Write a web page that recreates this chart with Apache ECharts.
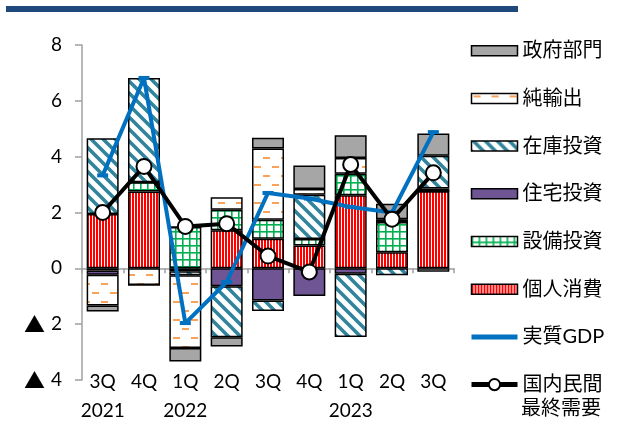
<!DOCTYPE html>
<html><head><meta charset="utf-8">
<script src="https://cdn.jsdelivr.net/npm/echarts@6/dist/echarts.min.js"></script>
<style>html,body{margin:0;padding:0;background:#fff}#c{width:630px;height:437px}</style>
</head><body><div id="c"></div>
<script>
const categories = ['3Q','4Q','1Q','2Q','3Q','4Q','1Q','2Q','3Q'];
const years = ['2021','','2022','','','','2023','',''];
const consumption = [1.95, 2.75, -0.1, 1.36, 1.06, 0.82, 2.62, 0.58, 2.76];
const capex       = [-0.08, 0.33, 1.48, 0.74, 0.68, 0.23, 0.77, 1.08, 0];
const housing     = [-0.15, 0, 0, -0.64, -1.15, -0.99, -0.19, 0, 0.1];
const inventory   = [2.71, 3.74, -0.15, -1.83, -0.38, 1.59, -2.27, -0.25, 1.17];
const netExports  = [-1.1, -0.6, -2.6, 0.45, 2.55, 0.2, 0.56, 0.1, -0.12];
const government  = [-0.22, 0, -0.49, -0.33, 0.39, 0.84, 0.82, 0.55, 0.8];
const realGDP     = [3.33, 6.82, -1.96, -0.49, 2.7, 2.5, 2.2, 2.0, 4.88];
const domestic    = [2.0, 3.65, 1.5, 1.6, 0.44, -0.13, 3.72, 1.76, 3.42];
const yTicks = {min: -4, max: 8, interval: 2};

const FONT = "Lato, 'Noto Sans CJK JP', sans-serif";
function pattern(w, h, draw) {
  const c = document.createElement('canvas');
  c.width = w; c.height = h;
  const g = c.getContext('2d');
  g.fillStyle = '#fff'; g.fillRect(0, 0, w, h);
  draw(g, w, h);
  return {image: c, repeat: 'repeat'};
}
const redP = pattern(3, 3, g => { g.fillStyle = '#FF0000'; g.fillRect(0, 0, 2, 3); });
const greenP = pattern(7, 7, g => { g.fillStyle = '#00B050'; g.fillRect(0, 0, 1.6, 7); g.fillRect(0, 0, 7, 1.6); });
const tealP = pattern(12, 12, g => {
  g.strokeStyle = '#31849B'; g.lineWidth = 3.6; g.beginPath();
  for (let k = -1; k <= 1; k++) { g.moveTo(k * 12 - 2, -2); g.lineTo(k * 12 + 14, 14); }
  g.stroke();
});
const orangeP = pattern(18, 18, g => { g.fillStyle = '#F9A25A'; g.fillRect(2, 4, 7, 2); g.fillRect(11, 13, 7, 2); });
const purple = '#6F5594';
const gray = '#A6A6A6';

function barSeries(name, data, color) {
  return {name, type: 'bar', stack: 'total', data, barWidth: 32, xAxisIndex: 0,
    itemStyle: {color, borderColor: '#000', borderWidth: 1.5}, emphasis: {disabled: true}};
}
const chart = echarts.init(document.getElementById('c'), null, {renderer: 'canvas'});
const legendBar = n => ({name: n, icon: 'path://M0,0h46v10h-46z', itemStyle: {borderColor: '#000', borderWidth: 1.5}});
chart.setOption({
  animation: false,
  textStyle: {fontFamily: FONT},
  grid: {left: 82, right: 176, top: 45, bottom: 57, containLabel: false},
  legend: {
    orient: 'vertical', left: 464, top: 33.7, itemWidth: 46, itemHeight: 14, itemGap: 23.7,
    symbolKeepAspect: true,
    textStyle: {fontSize: 20, lineHeight: 24, color: '#000', fontFamily: FONT},
    formatter: n => n === '国内民間最終需要' ? '国内民間' : n,
    selectedMode: false,
    data: [legendBar('政府部門'), legendBar('純輸出'), legendBar('在庫投資'), legendBar('住宅投資'),
      legendBar('設備投資'), legendBar('個人消費'),
      {name: '実質GDP', icon: 'path://M0,0h46v5h-46z', itemStyle: {color: '#0070C0', borderWidth: 0}},
      {name: '国内民間最終需要', lineStyle: {width: 5, color: '#000'}, itemStyle: {color: '#fff', borderColor: '#000', borderWidth: 2}}]
  },
  graphic: [
    {type: 'rect', shape: {x: 6, y: 6, width: 512, height: 6}, style: {fill: '#1F497D'}},
    {type: 'text', left: 521, top: 399, style: {text: '最終需要', fontSize: 20, fontFamily: FONT, fill: '#000'}}
  ],
  xAxis: [
    {type: 'category', data: categories, position: 'bottom',
      axisLine: {onZero: true, lineStyle: {color: '#A0A0A0', width: 1.5}},
      axisTick: {show: true, length: 5, lineStyle: {color: '#A0A0A0', width: 1.5}},
      axisLabel: {show: false}},
    {type: 'category', data: categories, position: 'bottom',
      axisLine: {show: false, onZero: false}, axisTick: {show: false},
      axisLabel: {interval: 0, margin: -13, fontSize: 19, lineHeight: 29, color: '#000', fontFamily: FONT,
        formatter: (v, i) => v + '\n' + years[i]}}
  ],
  yAxis: {type: 'value', min: yTicks.min, max: yTicks.max, interval: yTicks.interval,
    axisLine: {show: true, lineStyle: {color: '#A0A0A0', width: 1.5}},
    axisTick: {show: true, inside: false, length: 7, lineStyle: {color: '#A0A0A0', width: 1.5}},
    splitLine: {show: false},
    axisLabel: {margin: 20, fontSize: 19, color: '#000', fontFamily: FONT,
      rich: {t: {fontSize: 21, fontFamily: "'Noto Sans CJK JP'", padding: [0, 6, 0, 0]}},
      formatter: v => v < 0 ? '{t|▲}' + Math.abs(v) : String(v)}},
  series: [
    barSeries('個人消費', consumption, redP),
    barSeries('設備投資', capex, greenP),
    barSeries('住宅投資', housing, purple),
    barSeries('在庫投資', inventory, tealP),
    barSeries('純輸出', netExports, orangeP),
    barSeries('政府部門', government, gray),
    {name: '実質GDP', type: 'line', data: realGDP, z: 3, symbol: 'rect', symbolSize: [11, 4],
      itemStyle: {color: '#0070C0'}, lineStyle: {color: '#0070C0', width: 4}, emphasis: {disabled: true}},
    {name: '国内民間最終需要', type: 'line', data: domestic, z: 4, symbol: 'circle', symbolSize: 15,
      itemStyle: {color: '#fff', borderColor: '#000', borderWidth: 2}, lineStyle: {color: '#000', width: 4},
      emphasis: {disabled: true}}
  ]
});
</script></body></html>
